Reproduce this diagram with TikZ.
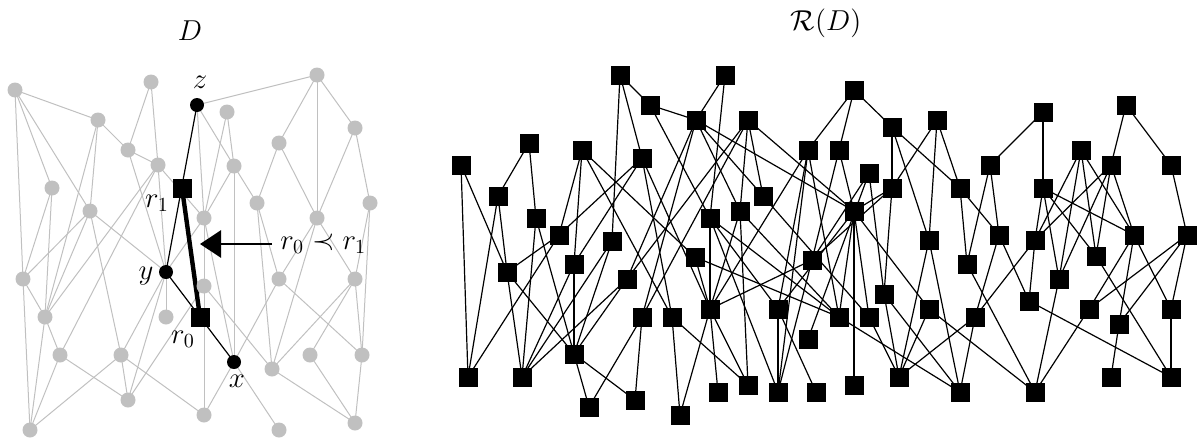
\documentclass[tikz,border=0pt]{standalone}
\usetikzlibrary{arrows.meta,backgrounds}
\definecolor{lg}{RGB}{192,192,192}
\begin{document}
\begin{tikzpicture}[x=0.5pt,y=-0.5pt,
  gn/.style={circle,fill=lg,inner sep=0pt,minimum size=7.5pt},
  bn/.style={circle,fill=black,inner sep=0pt,minimum size=7pt},
  sq/.style={rectangle,fill=black,inner sep=0pt,minimum size=9.5pt},
  ge/.style={draw=lg,line width=0.5pt},
  be/.style={draw=black,line width=0.6pt},
  lbl/.style={font=\fontsize{14.5}{17}\selectfont,inner sep=0pt}]
\useasboundingbox (0,0) rectangle (1197,439);
% titles
\node[lbl] (tD) at (190,31) {$D$};
\node[lbl] (tR) at (826,23) {$\mathcal{R}(D)$};
% ---------- left graph D ----------
\foreach \n/\px/\py in {1/15/90,2/151/82,3/98/120,4/128/150,5/158/165,6/52/188,7/90/211,
  8/317/75,9/227/112,10/355/128,11/279/143,12/234/166,13/257/203,14/204/218,15/317/218,
  16/370/203,17/23/279,18/45/317,19/60/355,20/121/355,21/128/400,22/30/430,23/166/317,
  24/204/415,25/204/286,26/279/279,27/355/279,28/272/369,29/310/355,30/362/355,
  31/279/430,32/355/423}
  \node[gn] (a\n) at (\px,\py) {};
\node[bn] (nz) at (197,105) {};
\node[bn] (ny) at (166,272) {};
\node[bn] (nx) at (234,362) {};
\node[sq] (nr1) at (182,188) {};
\node[sq] (nr0) at (200,317) {};
\node[lbl] (lz) at (200,82) {$z$};
\node[lbl] (ly) at (146,276) {$y$};
\node[lbl] (lx) at (237,381) {$x$};
\node[lbl] (lr1) at (157,203) {$r_1$};
\node[lbl] (lr0) at (183,339) {$r_0$};
\node[lbl,anchor=west] (lprec) at (280,244) {$r_0 \prec r_1$};
\coordinate (atail) at (272,244);
\coordinate (atip) at (200,244);
\begin{pgfonlayer}{background}
\foreach \a/\b in {a1/a3,a1/a17,a1/a6,a1/a7,a2/a4,a2/a5,a3/a4,a3/a7,a3/a18,a4/a5,a4/ny,
  a5/a18,a5/a19,a5/ny,a5/a14,a6/a17,a6/a18,a7/a17,a7/a18,a7/a20,a7/ny,a17/a18,a17/a22,
  a18/a22,a18/a19,a19/a22,a19/a21,a20/a22,a20/a21,a20/a24,ny/a23,ny/a20,ny/a21,a21/a25,
  nz/a8,nz/a14,nz/a12,a9/a12,a9/a14,a8/a11,a8/a15,a8/a10,a11/a13,a11/a15,a10/a15,a10/a16,
  a12/a14,a12/a13,a12/nx,a13/a26,a13/a28,a14/a25,a14/ny,a14/nx,a15/a26,a15/a27,a15/a28,
  a16/a27,a16/a30,a26/nx,a26/a30,a27/a28,a27/a29,a27/a30,a28/a32,a29/a32,a30/a32,
  a25/a24,nx/a24,nx/a31,a25/a28}
  \draw[ge] (\a.center) -- (\b.center);
\draw[be] (nz.center) -- (ny.center);
\draw[be] (ny.center) -- (nx.center);
\draw[line width=2.2pt] (nr1.center) -- (nr0.center);
\end{pgfonlayer}
\draw[line width=1.35pt,-{Triangle[length=10.5pt,width=13.5pt]}] (atail) -- (atip);
% ---------- right graph R(D) ----------
\foreach \n/\px/\py in {1/620/75,2/725/75,3/650/105,4/854/90,5/696/120,6/748/120,7/892/127,
  8/937/120,9/1043/112,10/1126/105,11/461/165,12/529/143,13/582/150,14/642/158,15/808/150,
  16/839/150,17/869/173,18/892/188,19/990/165,20/1081/150,21/1111/165,22/1171/165,
  23/498/196,24/536/218,25/559/235,26/612/241,27/710/218,28/740/211,29/763/196,30/854/211,
  31/960/188,32/1043/188,33/999/235,34/1035/240,35/1134/235,36/1187/235,37/929/240,
  38/695/257,39/507/272,40/574/264,41/627/279,42/812/260,43/967/264,44/1096/256,45/884/294,
  46/1059/279,47/642/317,48/672/317,49/710/309,50/778/309,51/839/317,52/869/317,53/929/309,
  54/1029/301,55/975/317,56/1089/309,57/1171/309,58/1119/324,59/808/339,60/574/354,
  61/468/377,62/522/377,63/899/377,64/748/385,65/854/385,66/1111/377,67/1171/377,
  68/589/407,69/635/400,70/680/415,71/718/392,72/778/392,73/816/392,74/960/392,75/1035/392}
  \node[sq] (p\n) at (\px,\py) {};
\begin{pgfonlayer}{background}
\foreach \a/\b in {1/3,1/14,1/26,2/5,2/27,3/5,3/27,4/15,4/16,4/7,
  5/41,5/47,5/28,5/29,5/30,6/41,6/47,6/28,6/29,6/30,7/18,7/37,7/31,8/18,8/37,8/31,
  9/19,9/32,10/21,10/22,11/61,11/39,12/23,12/24,13/25,13/40,13/48,13/38,
  14/25,14/48,14/49,14/40,15/49,15/50,15/72,15/51,16/42,16/30,17/59,17/45,17/42,
  18/30,18/45,18/42,19/43,19/33,20/34,20/46,20/44,20/35,21/34,21/46,21/44,21/35,22/36,
  23/61,23/39,24/62,24/60,25/61,25/39,26/62,26/60,27/49,27/50,27/51,27/72,
  28/49,28/64,28/51,29/52,30/50,30/51,30/52,30/53,30/65,31/43,31/33,
  32/34,32/46,32/44,32/35,33/55,33/54,34/54,34/55,35/56,35/58,35/57,36/56,36/58,36/57,
  37/63,37/74,38/51,38/49,39/62,39/60,40/60,40/62,41/62,41/60,42/49,42/72,43/75,44/67,
  45/63,45/74,46/75,47/68,47/69,48/70,48/64,49/71,49/64,49/70,50/72,50/73,51/74,
  52/63,53/63,53/75,54/67,55/74,55/63,56/75,57/67,58/66,60/68,60/69}
  \draw[be] (p\a.center) -- (p\b.center);
\end{pgfonlayer}
\end{tikzpicture}
\end{document}
